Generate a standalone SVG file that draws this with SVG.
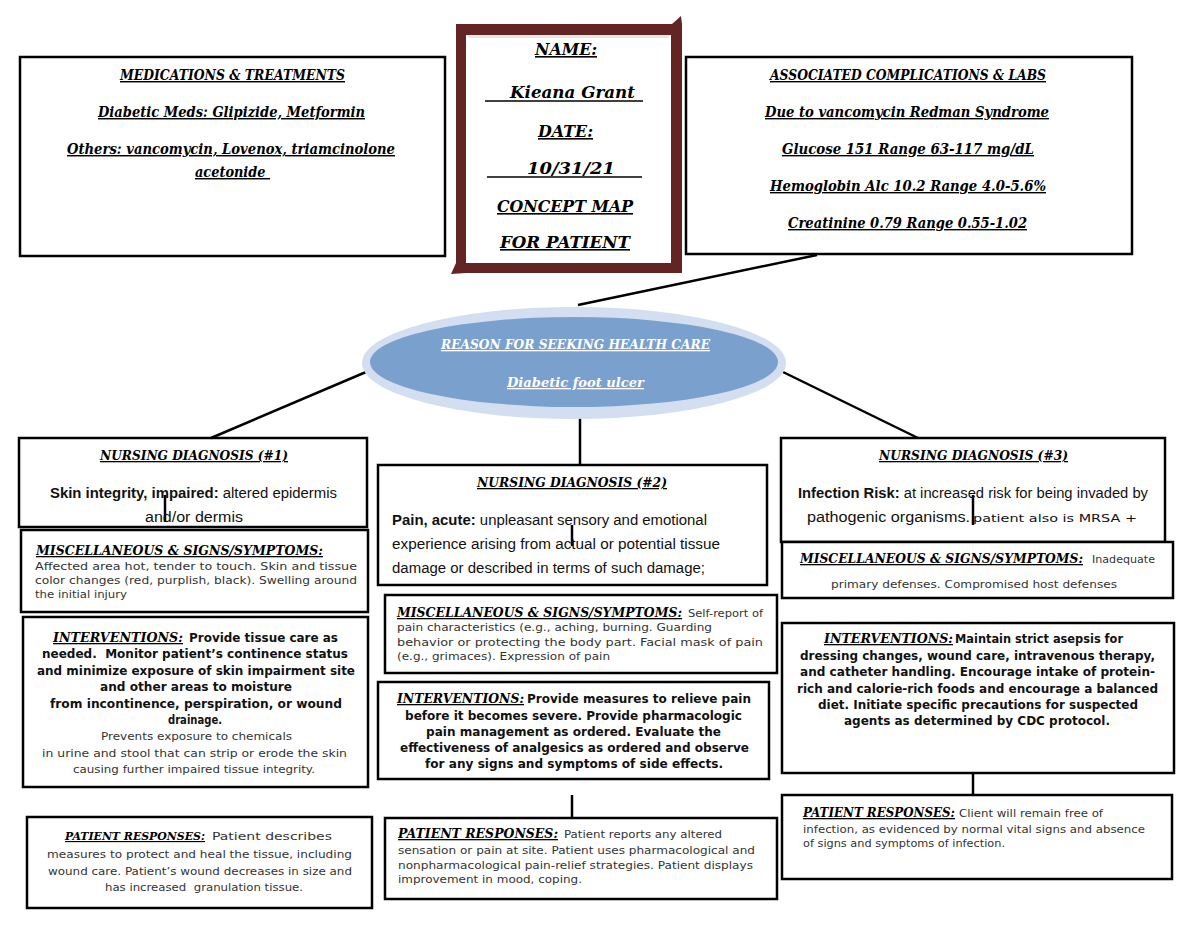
<svg xmlns="http://www.w3.org/2000/svg" width="1200" height="927" viewBox="0 0 1200 927">
<style>
.box{fill:#fff;stroke:#000;stroke-width:2.5}
.hd{font-family:"DejaVu Serif","Liberation Serif",serif;font-weight:bold;font-style:italic;text-decoration:underline;fill:#000}
.cal{font-family:"Liberation Sans","Noto Sans",sans-serif;font-size:14px;fill:#111}
.ver{font-family:"DejaVu Sans","Noto Sans",sans-serif;font-size:11px;fill:#333}
.verb{font-family:"DejaVu Sans","Noto Sans",sans-serif;font-size:11.5px;font-weight:bold;fill:#111}
.con{stroke:#000;stroke-width:2.5;fill:none}
</style>
<rect width="1200" height="927" fill="#fff"/>

<g id="connectors">
<line class="con" x1="817" y1="255" x2="578" y2="305"/>
<line class="con" x1="366" y1="372" x2="211" y2="438"/>
<line class="con" x1="783" y1="372" x2="918" y2="438"/>
<line class="con" x1="580" y1="413" x2="580" y2="465"/>
<line class="con" x1="165" y1="495" x2="165" y2="522"/>
<line class="con" x1="572" y1="525" x2="572" y2="546"/>
<line class="con" x1="973" y1="495" x2="973" y2="525"/>
<line class="con" x1="572" y1="795" x2="572" y2="818"/>
<line class="con" x1="973" y1="773" x2="973" y2="795"/>
</g>

<g id="medications">
<rect class="box" x="20" y="57" width="425" height="199"/>
<text class="hd" font-size="14.5" x="120" y="80" textLength="225" lengthAdjust="spacingAndGlyphs">MEDICATIONS &amp; TREATMENTS</text>
<text class="hd" font-size="14.5" x="98" y="117" textLength="267" lengthAdjust="spacingAndGlyphs">Diabetic Meds: Glipizide, Metformin</text>
<text class="hd" font-size="14.5" x="67" y="154" textLength="328" lengthAdjust="spacingAndGlyphs">Others: vancomycin, Lovenox, triamcinolone</text>
<text class="hd" font-size="14.5" x="195" y="177" textLength="75" lengthAdjust="spacingAndGlyphs" xml:space="preserve">acetonide </text>
</g>

<g id="name-box">
<path d="M456,24 H682 V273 H456 Z M466,35 V263 H671 V35 Z" fill="#632523" fill-rule="evenodd"/>
<polygon points="672,24 681,16 682,24" fill="#632523"/>
<polygon points="456,263 451,274 466,273" fill="#632523"/>
<polygon points="466,35 671,35 668,38 469,38" fill="#e6e6e6"/>
<text class="hd" font-size="16" x="535" y="55" textLength="62" lengthAdjust="spacingAndGlyphs">NAME:</text>
<text class="hd" font-size="16" x="510" y="98" textLength="125" lengthAdjust="spacingAndGlyphs" style="text-decoration:none">Kieana Grant</text>
<line x1="485" y1="101" x2="643" y2="101" stroke="#000" stroke-width="1.3"/>
<text class="hd" font-size="16" x="538" y="137" textLength="55" lengthAdjust="spacingAndGlyphs">DATE:</text>
<text class="hd" font-size="16" x="527" y="174" textLength="88" lengthAdjust="spacingAndGlyphs" style="text-decoration:none">10/31/21</text>
<line x1="487" y1="177" x2="642" y2="177" stroke="#000" stroke-width="1.3"/>
<text class="hd" font-size="16" x="497" y="212" textLength="136" lengthAdjust="spacingAndGlyphs">CONCEPT MAP</text>
<text class="hd" font-size="16" x="500" y="248" textLength="130" lengthAdjust="spacingAndGlyphs">FOR PATIENT</text>
</g>

<g id="complications">
<rect class="box" x="686" y="57" width="446" height="197"/>
<text class="hd" font-size="14" x="770" y="80" textLength="276" lengthAdjust="spacingAndGlyphs">ASSOCIATED COMPLICATIONS &amp; LABS</text>
<text class="hd" font-size="14" x="765" y="117" textLength="284" lengthAdjust="spacingAndGlyphs">Due to vancomycin Redman Syndrome</text>
<text class="hd" font-size="14" x="782" y="154" textLength="252" lengthAdjust="spacingAndGlyphs">Glucose 151 Range 63-117 mg/dL</text>
<text class="hd" font-size="14" x="770" y="191" textLength="276" lengthAdjust="spacingAndGlyphs">Hemoglobin Alc 10.2 Range 4.0-5.6%</text>
<text class="hd" font-size="14" x="788" y="228" textLength="239" lengthAdjust="spacingAndGlyphs">Creatinine 0.79 Range 0.55-1.02</text>
</g>

<g id="reason">
<ellipse cx="574" cy="363" rx="212" ry="56" fill="#d3dff0"/>
<ellipse cx="574" cy="362" rx="204" ry="45" fill="#7aa0cd"/>
<text class="hd" font-size="13" x="441" y="349" textLength="269" lengthAdjust="spacingAndGlyphs" style="fill:#fff">REASON FOR SEEKING HEALTH CARE</text>
<text class="hd" font-size="13" x="507" y="387" textLength="137" lengthAdjust="spacingAndGlyphs" style="fill:#fff">Diabetic foot ulcer</text>
</g>

<g id="diagnosis-1">
<rect class="box" x="19" y="438" width="348" height="89" fill-opacity="0"/>
<text class="hd" font-size="13" x="100" y="460" textLength="188" lengthAdjust="spacingAndGlyphs">NURSING DIAGNOSIS (#1)</text>
<text class="cal" x="50" y="498" textLength="287" lengthAdjust="spacingAndGlyphs"><tspan font-weight="bold">Skin integrity, impaired:</tspan> altered epidermis</text>
<text class="cal" x="145" y="522" textLength="98" lengthAdjust="spacingAndGlyphs">and/or dermis</text>
</g>

<g id="misc-1">
<rect class="box" x="21" y="530" width="347" height="82"/>
<text class="hd" font-size="13" x="36" y="555" textLength="287" lengthAdjust="spacingAndGlyphs">MISCELLANEOUS &amp; SIGNS/SYMPTOMS:</text>
<text class="ver" x="35" y="570" textLength="322" lengthAdjust="spacingAndGlyphs">Affected area hot, tender to touch. Skin and tissue</text>
<text class="ver" x="35" y="584" textLength="322" lengthAdjust="spacingAndGlyphs">color changes (red, purplish, black). Swelling around</text>
<text class="ver" x="35" y="598" textLength="92" lengthAdjust="spacingAndGlyphs">the initial injury</text>
</g>

<g id="interventions-1">
<rect class="box" x="23" y="617" width="345" height="170"/>
<text class="hd" font-size="13" x="53" y="642" textLength="130" lengthAdjust="spacingAndGlyphs">INTERVENTIONS:</text>
<text class="verb" x="189" y="642" textLength="149" lengthAdjust="spacingAndGlyphs">Provide tissue care as</text>
<text class="verb" x="42" y="658" textLength="306" lengthAdjust="spacingAndGlyphs" xml:space="preserve">needed.  Monitor patient’s continence status</text>
<text class="verb" x="37" y="675" textLength="318" lengthAdjust="spacingAndGlyphs">and minimize exposure of skin impairment site</text>
<text class="verb" x="100" y="691" textLength="192" lengthAdjust="spacingAndGlyphs">and other areas to moisture</text>
<text class="verb" x="50" y="708" textLength="292" lengthAdjust="spacingAndGlyphs">from incontinence, perspiration, or wound</text>
<text class="verb" x="168" y="724" textLength="54" lengthAdjust="spacingAndGlyphs">drainage.</text>
<text class="ver" x="101" y="740" textLength="191" lengthAdjust="spacingAndGlyphs">Prevents exposure to chemicals</text>
<text class="ver" x="42" y="757" textLength="305" lengthAdjust="spacingAndGlyphs">in urine and stool that can strip or erode the skin</text>
<text class="ver" x="73" y="773" textLength="242" lengthAdjust="spacingAndGlyphs">causing further impaired tissue integrity.</text>
</g>

<g id="responses-1">
<rect class="box" x="27" y="817" width="345" height="91"/>
<text class="hd" font-size="11.5" x="65" y="840" textLength="140" lengthAdjust="spacingAndGlyphs">PATIENT RESPONSES:</text>
<text class="ver" x="212" y="840" textLength="120" lengthAdjust="spacingAndGlyphs">Patient describes</text>
<text class="ver" x="47" y="858" textLength="305" lengthAdjust="spacingAndGlyphs">measures to protect and heal the tissue, including</text>
<text class="ver" x="48" y="875" textLength="304" lengthAdjust="spacingAndGlyphs">wound care. Patient’s wound decreases in size and</text>
<text class="ver" x="105" y="891" textLength="198" lengthAdjust="spacingAndGlyphs" xml:space="preserve">has increased  granulation tissue.</text>
</g>

<g id="diagnosis-2">
<rect class="box" x="378" y="465" width="389" height="120" fill-opacity="0"/>
<text class="hd" font-size="13" x="477" y="487" textLength="190" lengthAdjust="spacingAndGlyphs">NURSING DIAGNOSIS (#2)</text>
<text class="cal" x="392" y="525" textLength="315" lengthAdjust="spacingAndGlyphs"><tspan font-weight="bold">Pain, acute:</tspan> unpleasant sensory and emotional</text>
<text class="cal" x="392" y="549" textLength="328" lengthAdjust="spacingAndGlyphs">experience arising from actual or potential tissue</text>
<text class="cal" x="392" y="573" textLength="313" lengthAdjust="spacingAndGlyphs">damage or described in terms of such damage;</text>
</g>

<g id="misc-2">
<rect class="box" x="385" y="595" width="392" height="78"/>
<text class="hd" font-size="13" x="397" y="617" textLength="285" lengthAdjust="spacingAndGlyphs">MISCELLANEOUS &amp; SIGNS/SYMPTOMS:</text>
<text class="ver" x="688" y="617" textLength="75" lengthAdjust="spacingAndGlyphs">Self-report of</text>
<text class="ver" x="397" y="631" textLength="315" lengthAdjust="spacingAndGlyphs">pain characteristics (e.g., aching, burning. Guarding</text>
<text class="ver" x="397" y="646" textLength="366" lengthAdjust="spacingAndGlyphs">behavior or protecting the body part. Facial mask of pain</text>
<text class="ver" x="397" y="660" textLength="213" lengthAdjust="spacingAndGlyphs">(e.g., grimaces). Expression of pain</text>
</g>

<g id="interventions-2">
<rect class="box" x="378" y="682" width="391" height="97"/>
<text class="hd" font-size="13" x="397" y="703" textLength="127" lengthAdjust="spacingAndGlyphs">INTERVENTIONS:</text>
<text class="verb" x="527" y="703" textLength="224" lengthAdjust="spacingAndGlyphs">Provide measures to relieve pain</text>
<text class="verb" x="405" y="720" textLength="337" lengthAdjust="spacingAndGlyphs">before it becomes severe. Provide pharmacologic</text>
<text class="verb" x="426" y="736" textLength="295" lengthAdjust="spacingAndGlyphs">pain management as ordered. Evaluate the</text>
<text class="verb" x="400" y="752" textLength="349" lengthAdjust="spacingAndGlyphs">effectiveness of analgesics as ordered and observe</text>
<text class="verb" x="425" y="768" textLength="298" lengthAdjust="spacingAndGlyphs">for any signs and symptoms of side effects.</text>
</g>

<g id="responses-2">
<rect class="box" x="385" y="818" width="392" height="81"/>
<text class="hd" font-size="13" x="398" y="838" textLength="160" lengthAdjust="spacingAndGlyphs">PATIENT RESPONSES:</text>
<text class="ver" x="564" y="838" textLength="158" lengthAdjust="spacingAndGlyphs">Patient reports any altered</text>
<text class="ver" x="398" y="854" textLength="357" lengthAdjust="spacingAndGlyphs">sensation or pain at site. Patient uses pharmacological and</text>
<text class="ver" x="398" y="869" textLength="355" lengthAdjust="spacingAndGlyphs">nonpharmacological pain-relief strategies. Patient displays</text>
<text class="ver" x="398" y="883" textLength="184" lengthAdjust="spacingAndGlyphs">improvement in mood, coping.</text>
</g>

<g id="diagnosis-3">
<rect class="box" x="781" y="438" width="384" height="104" fill-opacity="0"/>
<text class="hd" font-size="13" x="879" y="460" textLength="189" lengthAdjust="spacingAndGlyphs">NURSING DIAGNOSIS (#3)</text>
<text class="cal" x="798" y="498" textLength="350" lengthAdjust="spacingAndGlyphs"><tspan font-weight="bold">Infection Risk:</tspan> at increased risk for being invaded by</text>
<text class="cal" x="807" y="522" textLength="163" lengthAdjust="spacingAndGlyphs">pathogenic organisms.</text>
<text class="ver" x="973" y="522" font-size="13.5" textLength="164" lengthAdjust="spacingAndGlyphs" style="fill:#111">patient also is MRSA +</text>
</g>

<g id="misc-3">
<rect class="box" x="782" y="542" width="391" height="56"/>
<text class="hd" font-size="13" x="800" y="563" textLength="283" lengthAdjust="spacingAndGlyphs">MISCELLANEOUS &amp; SIGNS/SYMPTOMS:</text>
<text class="ver" x="1092" y="563" textLength="63" lengthAdjust="spacingAndGlyphs">Inadequate</text>
<text class="ver" x="831" y="588" textLength="286" lengthAdjust="spacingAndGlyphs">primary defenses. Compromised host defenses</text>
</g>

<g id="interventions-3">
<rect class="box" x="782" y="623" width="392" height="150"/>
<text class="hd" font-size="13" x="824" y="643" textLength="129" lengthAdjust="spacingAndGlyphs">INTERVENTIONS:</text>
<text class="verb" x="955" y="643" textLength="168" lengthAdjust="spacingAndGlyphs">Maintain strict asepsis for</text>
<text class="verb" x="800" y="660" textLength="355" lengthAdjust="spacingAndGlyphs">dressing changes, wound care, intravenous therapy,</text>
<text class="verb" x="800" y="676" textLength="355" lengthAdjust="spacingAndGlyphs">and catheter handling. Encourage intake of protein-</text>
<text class="verb" x="797" y="693" textLength="361" lengthAdjust="spacingAndGlyphs">rich and calorie-rich foods and encourage a balanced</text>
<text class="verb" x="818" y="709" textLength="320" lengthAdjust="spacingAndGlyphs">diet. Initiate specific precautions for suspected</text>
<text class="verb" x="844" y="725" textLength="266" lengthAdjust="spacingAndGlyphs">agents as determined by CDC protocol.</text>
</g>

<g id="responses-3">
<rect class="box" x="782" y="795" width="390" height="84"/>
<text class="hd" font-size="13" x="803" y="817" textLength="152" lengthAdjust="spacingAndGlyphs">PATIENT RESPONSES:</text>
<text class="ver" x="959" y="817" textLength="144" lengthAdjust="spacingAndGlyphs">Client will remain free of</text>
<text class="ver" x="803" y="833" textLength="342" lengthAdjust="spacingAndGlyphs">infection, as evidenced by normal vital signs and absence</text>
<text class="ver" x="803" y="847" textLength="202" lengthAdjust="spacingAndGlyphs">of signs and symptoms of infection.</text>
</g>
</svg>
